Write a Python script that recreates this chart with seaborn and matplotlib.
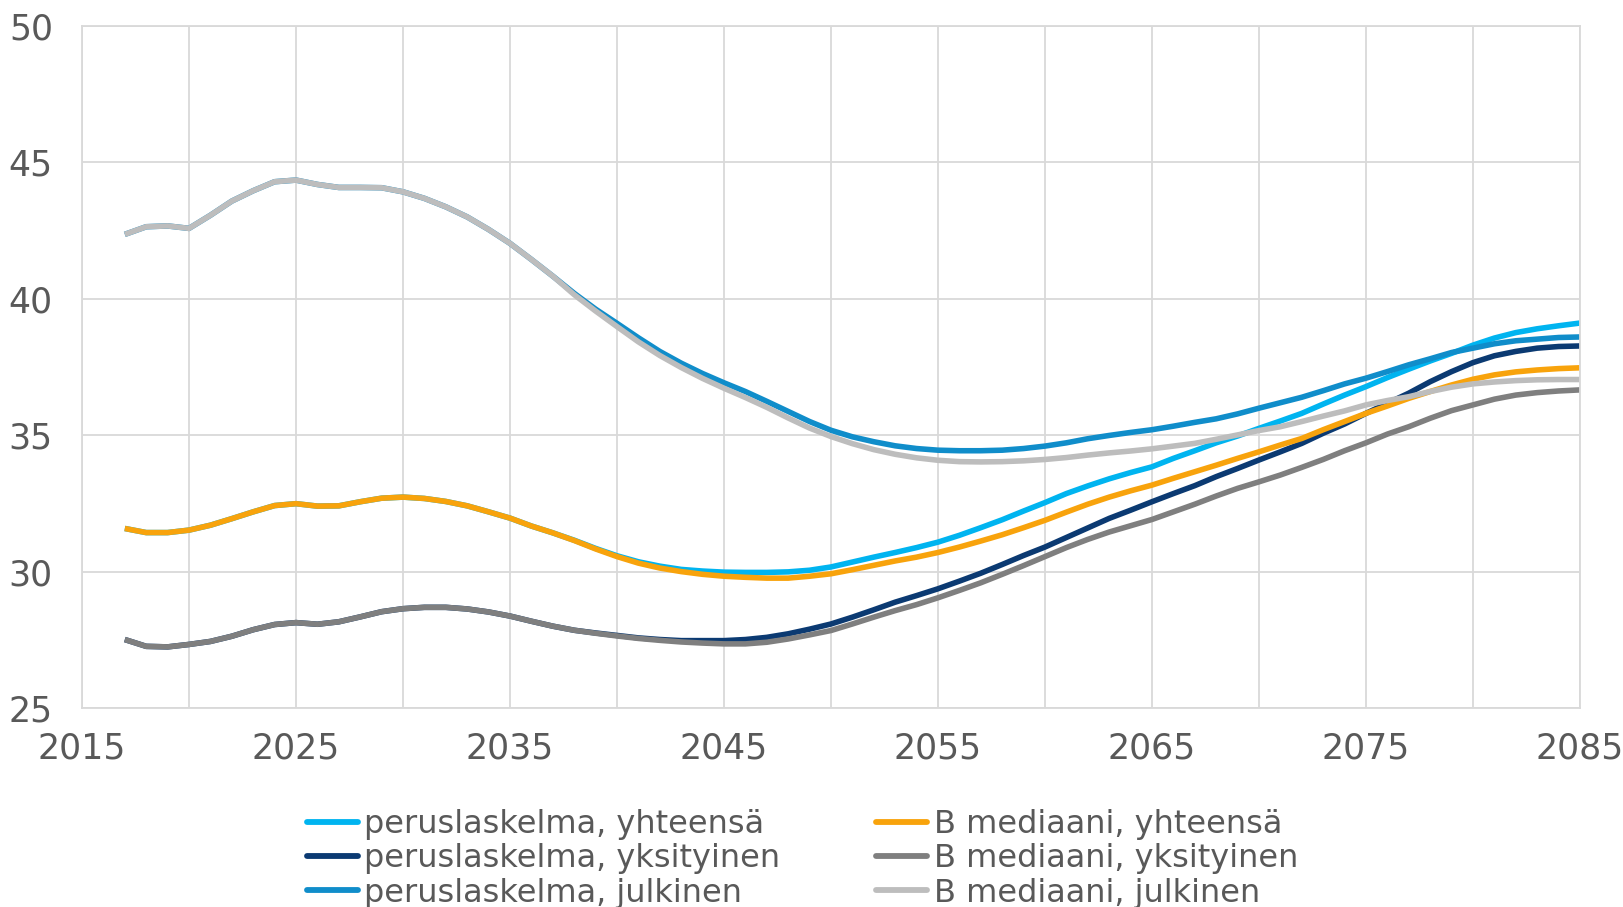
import pandas as pd
import matplotlib
matplotlib.use('Agg')
import matplotlib.pyplot as plt
from matplotlib.lines import Line2D
import seaborn as sns

# ---------------------------------------------------------------
# data
# ---------------------------------------------------------------
years = list(range(2017, 2086))

early_yht = [31.58, 31.43, 31.43, 31.52, 31.70, 31.94, 32.19, 32.42, 32.49, 32.40, 32.41,
             32.56, 32.69, 32.73, 32.68, 32.57, 32.41, 32.19, 31.96, 31.67, 31.42]
early_yks = [27.51, 27.26, 27.24, 27.33, 27.44, 27.63, 27.87, 28.06, 28.13, 28.07, 28.16,
             28.34, 28.53, 28.64, 28.69, 28.69, 28.63, 28.52, 28.37, 28.18, 28.00]
early_julk = [42.36, 42.64, 42.67, 42.58, 43.06, 43.58, 43.96, 44.29, 44.35, 44.19, 44.08,
              44.08, 44.07, 43.92, 43.68, 43.37, 43.00, 42.54, 42.03, 41.44, 40.83]

perus_yht = early_yht + [
    31.15, 30.85, 30.58, 30.36, 30.20, 30.08, 30.02, 29.98, 29.97, 29.97,
    29.99, 30.05, 30.17, 30.35, 30.53, 30.70, 30.88, 31.08, 31.33, 31.61,
    31.90, 32.22, 32.53, 32.86, 33.14, 33.40, 33.63, 33.84, 34.15, 34.43,
    34.72, 34.97, 35.25, 35.52, 35.80, 36.14, 36.47, 36.78, 37.11, 37.42,
    37.72, 38.00, 38.30, 38.56, 38.76, 38.90, 39.01, 39.11]
b_yht = early_yht + [
    31.14, 30.83, 30.55, 30.31, 30.13, 30.00, 29.90, 29.83, 29.79, 29.76,
    29.76, 29.83, 29.92, 30.07, 30.23, 30.39, 30.53, 30.70, 30.90, 31.12,
    31.35, 31.61, 31.88, 32.18, 32.47, 32.73, 32.96, 33.17, 33.42, 33.66,
    33.90, 34.15, 34.39, 34.64, 34.88, 35.20, 35.50, 35.80, 36.07, 36.35,
    36.60, 36.84, 37.05, 37.21, 37.32, 37.39, 37.44, 37.47]
perus_yks = early_yks + [
    27.85, 27.75, 27.66, 27.57, 27.51, 27.47, 27.47, 27.47, 27.51, 27.59,
    27.72, 27.89, 28.08, 28.33, 28.60, 28.88, 29.12, 29.37, 29.65, 29.94,
    30.26, 30.59, 30.90, 31.25, 31.60, 31.95, 32.25, 32.56, 32.86, 33.15,
    33.48, 33.78, 34.09, 34.39, 34.70, 35.07, 35.41, 35.80, 36.17, 36.54,
    36.96, 37.33, 37.66, 37.91, 38.07, 38.19, 38.25, 38.27]
b_yks = early_yks + [
    27.85, 27.74, 27.64, 27.55, 27.48, 27.42, 27.38, 27.35, 27.35, 27.41,
    27.53, 27.68, 27.84, 28.08, 28.33, 28.57, 28.79, 29.04, 29.31, 29.59,
    29.90, 30.22, 30.55, 30.88, 31.18, 31.45, 31.68, 31.91, 32.19, 32.47,
    32.77, 33.05, 33.29, 33.54, 33.82, 34.11, 34.43, 34.72, 35.04, 35.31,
    35.62, 35.90, 36.11, 36.32, 36.47, 36.56, 36.62, 36.66]
perus_julk = early_julk + [
    40.20, 39.62, 39.10, 38.57, 38.07, 37.64, 37.26, 36.92, 36.60, 36.24,
    35.87, 35.50, 35.18, 34.94, 34.76, 34.61, 34.51, 34.45, 34.43, 34.43,
    34.45, 34.51, 34.60, 34.72, 34.87, 34.99, 35.10, 35.20, 35.33, 35.47,
    35.60, 35.78, 35.99, 36.19, 36.39, 36.63, 36.88, 37.09, 37.33, 37.58,
    37.80, 38.03, 38.19, 38.35, 38.46, 38.52, 38.58, 38.60]
b_julk = early_julk + [
    40.15, 39.55, 38.98, 38.42, 37.92, 37.48, 37.08, 36.72, 36.38, 36.02,
    35.63, 35.26, 34.95, 34.69, 34.47, 34.30, 34.17, 34.08, 34.03, 34.02,
    34.03, 34.06, 34.11, 34.18, 34.27, 34.35, 34.42, 34.50, 34.60, 34.70,
    34.85, 35.01, 35.17, 35.31, 35.50, 35.70, 35.89, 36.11, 36.27, 36.41,
    36.60, 36.76, 36.88, 36.95, 37.00, 37.03, 37.04, 37.04]

series_names = ['peruslaskelma, yhteensä', 'peruslaskelma, yksityinen', 'peruslaskelma, julkinen',
                'B mediaani, yhteensä', 'B mediaani, yksityinen', 'B mediaani, julkinen']
series_values = [perus_yht, perus_yks, perus_julk, b_yht, b_yks, b_julk]
series_colors = ['#00B4F0', '#0B3A72', '#108DCA', '#F8A30C', '#7F7F7F', '#BDBDBD']

x_ticks = [2015, 2025, 2035, 2045, 2055, 2065, 2075, 2085]
x_minor = [2020, 2030, 2040, 2050, 2060, 2070, 2080]
y_ticks = [25, 30, 35, 40, 45, 50]

# long format for seaborn
df = pd.concat([pd.DataFrame({'vuosi': years, 'arvo': vals, 'sarja': name})
                for name, vals in zip(series_names, series_values)], ignore_index=True)
palette = dict(zip(series_names, series_colors))

# ---------------------------------------------------------------
# plot
# ---------------------------------------------------------------
sns.set_theme(style='white')
plt.rcParams['font.family'] = ['DejaVu Sans']

GRID = '#D9D9D9'
TXT = '#595959'
LW = 4.0

fig = plt.figure(figsize=(16.24, 9.07), dpi=100)
ax = fig.add_axes([0.0505, 0.2194, 0.9224, 0.752])

sns.lineplot(data=df, x='vuosi', y='arvo', hue='sarja', hue_order=series_names,
             palette=palette, linewidth=LW, legend=False, ax=ax,
             solid_capstyle='butt')

ax.set_xlim(2015, 2085)
ax.set_ylim(25, 50)
ax.set_xticks(x_ticks)
ax.set_xticks(x_minor, minor=True)
ax.set_yticks(y_ticks)
ax.grid(True, which='both', color=GRID, linewidth=1.3)
ax.set_axisbelow(True)
for sp in ax.spines.values():
    sp.set_color(GRID)
    sp.set_linewidth(1.3)
ax.tick_params(axis='both', which='both', length=0, labelsize=25, labelcolor=TXT)
ax.tick_params(axis='y', pad=21)
ax.tick_params(axis='x', pad=17)
ax.set_xlabel('')
ax.set_ylabel('')

handles = [Line2D([0], [0], color=c, linewidth=LW + 0.2, solid_capstyle='round')
           for c in series_colors]
fig.legend(handles, series_names, loc='center', bbox_to_anchor=(0.494, 0.053),
           ncol=2, frameon=False, fontsize=23, labelcolor=TXT,
           handlelength=1.6, handletextpad=0.2, columnspacing=3.0,
           labelspacing=0.1, borderpad=0)

plt.savefig('out.png', dpi=100)
plt.close()
